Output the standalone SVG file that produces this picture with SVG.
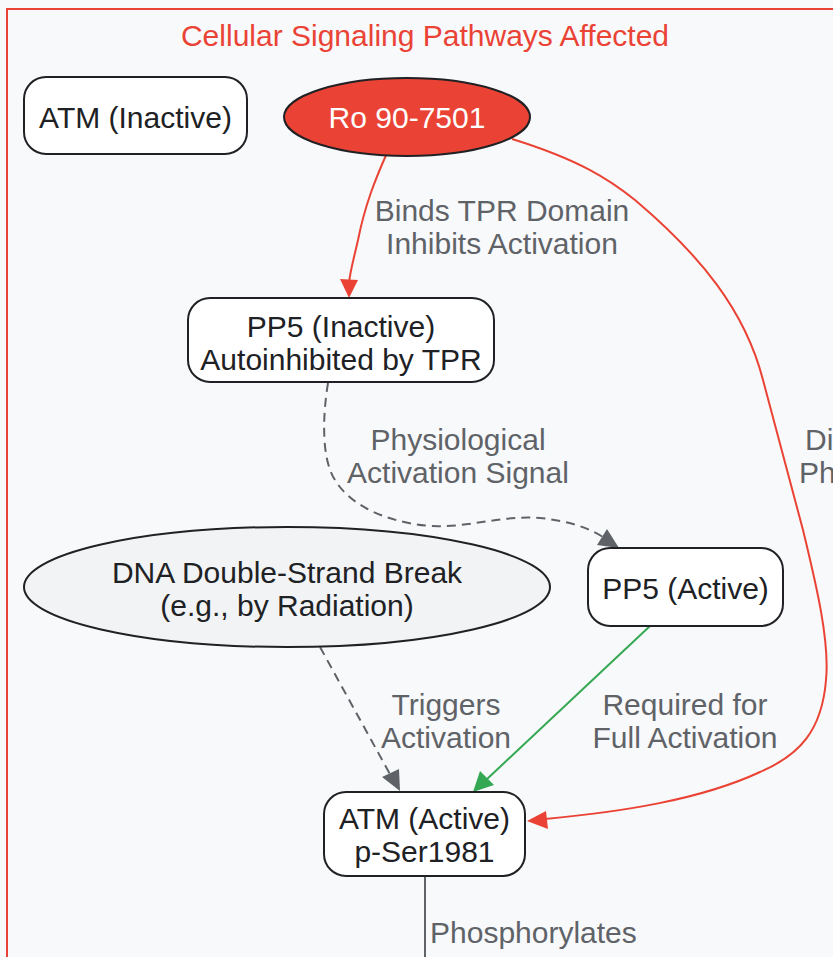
<svg xmlns="http://www.w3.org/2000/svg" width="833" height="957" viewBox="0 0 833 957">
<defs>
<style>
text{font-family:"Liberation Sans",Arial,sans-serif;font-size:30px}
.nt{fill:#202124;text-anchor:middle}
.lb{fill:#5f6368;text-anchor:middle}
.box{fill:#ffffff;stroke:#202124;stroke-width:2}
.e{fill:none;stroke-width:2}
.red{stroke:#ea4335}
.gray{stroke:#5f6368}
.green{stroke:#34a853}
.dash{stroke-dasharray:9,6}
</style>
</defs>
<rect x="0" y="0" width="833" height="957" fill="#f8f9fa"/>
<g id="cluster">
<rect x="7" y="9" width="900" height="1000" fill="#f8f9fa" stroke="#ea4335" stroke-width="2"/>
<text x="425" y="46" text-anchor="middle" fill="#ea4335">Cellular Signaling Pathways Affected</text>
</g>
<g id="edges">
<path class="e red" d="M387,153 C375,180 365,205 358,240 C353,262 350,272 349,283"/>
<path d="M349,298 L340,279 L358,280 z" fill="#ea4335"/>
<path class="e red" d="M512,139 C580,160 610,180 635,200 C700,255 745,310 763,380 L803,530 C815,580 830,640 826,680 C822,730 800,755 760,772 C700,800 620,812 545,819"/>
<path d="M527,821 L546,811 L548,829 z" fill="#ea4335"/>
<path class="e gray dash" d="M328,383 C322,420 322,460 335,480 C350,505 385,522 430,526 C470,528 500,515 540,518 C570,521 588,528 603,537"/>
<path d="M619,548 L597,545 L607,529 z" fill="#5f6368"/>
<path class="e gray dash" d="M320,647 L391,776"/>
<path d="M400,791 L382,777 L399,769 z" fill="#5f6368"/>
<path class="e green" d="M650,626 L486,780"/>
<path d="M473,792 L480,771 L494,785 z" fill="#34a853"/>
<path class="e gray" d="M425,877 L425,957"/>
<text class="lb" x="502" y="221">Binds TPR Domain</text>
<text class="lb" x="502" y="254">Inhibits Activation</text>
<text class="lb" x="458" y="450">Physiological</text>
<text class="lb" x="458" y="483">Activation Signal</text>
<text class="lb" x="446" y="715">Triggers</text>
<text class="lb" x="446" y="748">Activation</text>
<text class="lb" x="685" y="715">Required for</text>
<text class="lb" x="685" y="748">Full Activation</text>
<text x="805" y="450" fill="#5f6368">Di</text>
<text x="799" y="483" fill="#5f6368">Ph</text>
<text x="430" y="943" fill="#5f6368">Phosphorylates</text>
</g>
<g id="atm_inactive">
<rect class="box" x="24" y="77" width="223" height="77" rx="22"/>
<text class="nt" x="135.5" y="128">ATM (Inactive)</text>
</g>
<g id="ro907501">
<ellipse cx="407" cy="117" rx="123" ry="39" fill="#ea4335" stroke="#202124" stroke-width="2"/>
<text x="407" y="128" text-anchor="middle" fill="#ffffff">Ro 90-7501</text>
</g>
<g id="pp5_inactive">
<rect class="box" x="188" y="298" width="306" height="84" rx="22"/>
<text class="nt" x="341" y="337">PP5 (Inactive)</text>
<text class="nt" x="341" y="370">Autoinhibited by TPR</text>
</g>
<g id="pp5_active">
<rect class="box" x="588" y="548" width="195" height="78" rx="22"/>
<text class="nt" x="685.5" y="599">PP5 (Active)</text>
</g>
<g id="dna_dsb">
<ellipse cx="287" cy="587" rx="263" ry="60" fill="#f1f3f4" stroke="#202124" stroke-width="2"/>
<text class="nt" x="287" y="583">DNA Double-Strand Break</text>
<text class="nt" x="287" y="616">(e.g., by Radiation)</text>
</g>
<g id="atm_active">
<rect class="box" x="324" y="792" width="201" height="84" rx="22"/>
<text class="nt" x="424.5" y="829">ATM (Active)</text>
<text class="nt" x="424.5" y="862">p-Ser1981</text>
</g>
</svg>
